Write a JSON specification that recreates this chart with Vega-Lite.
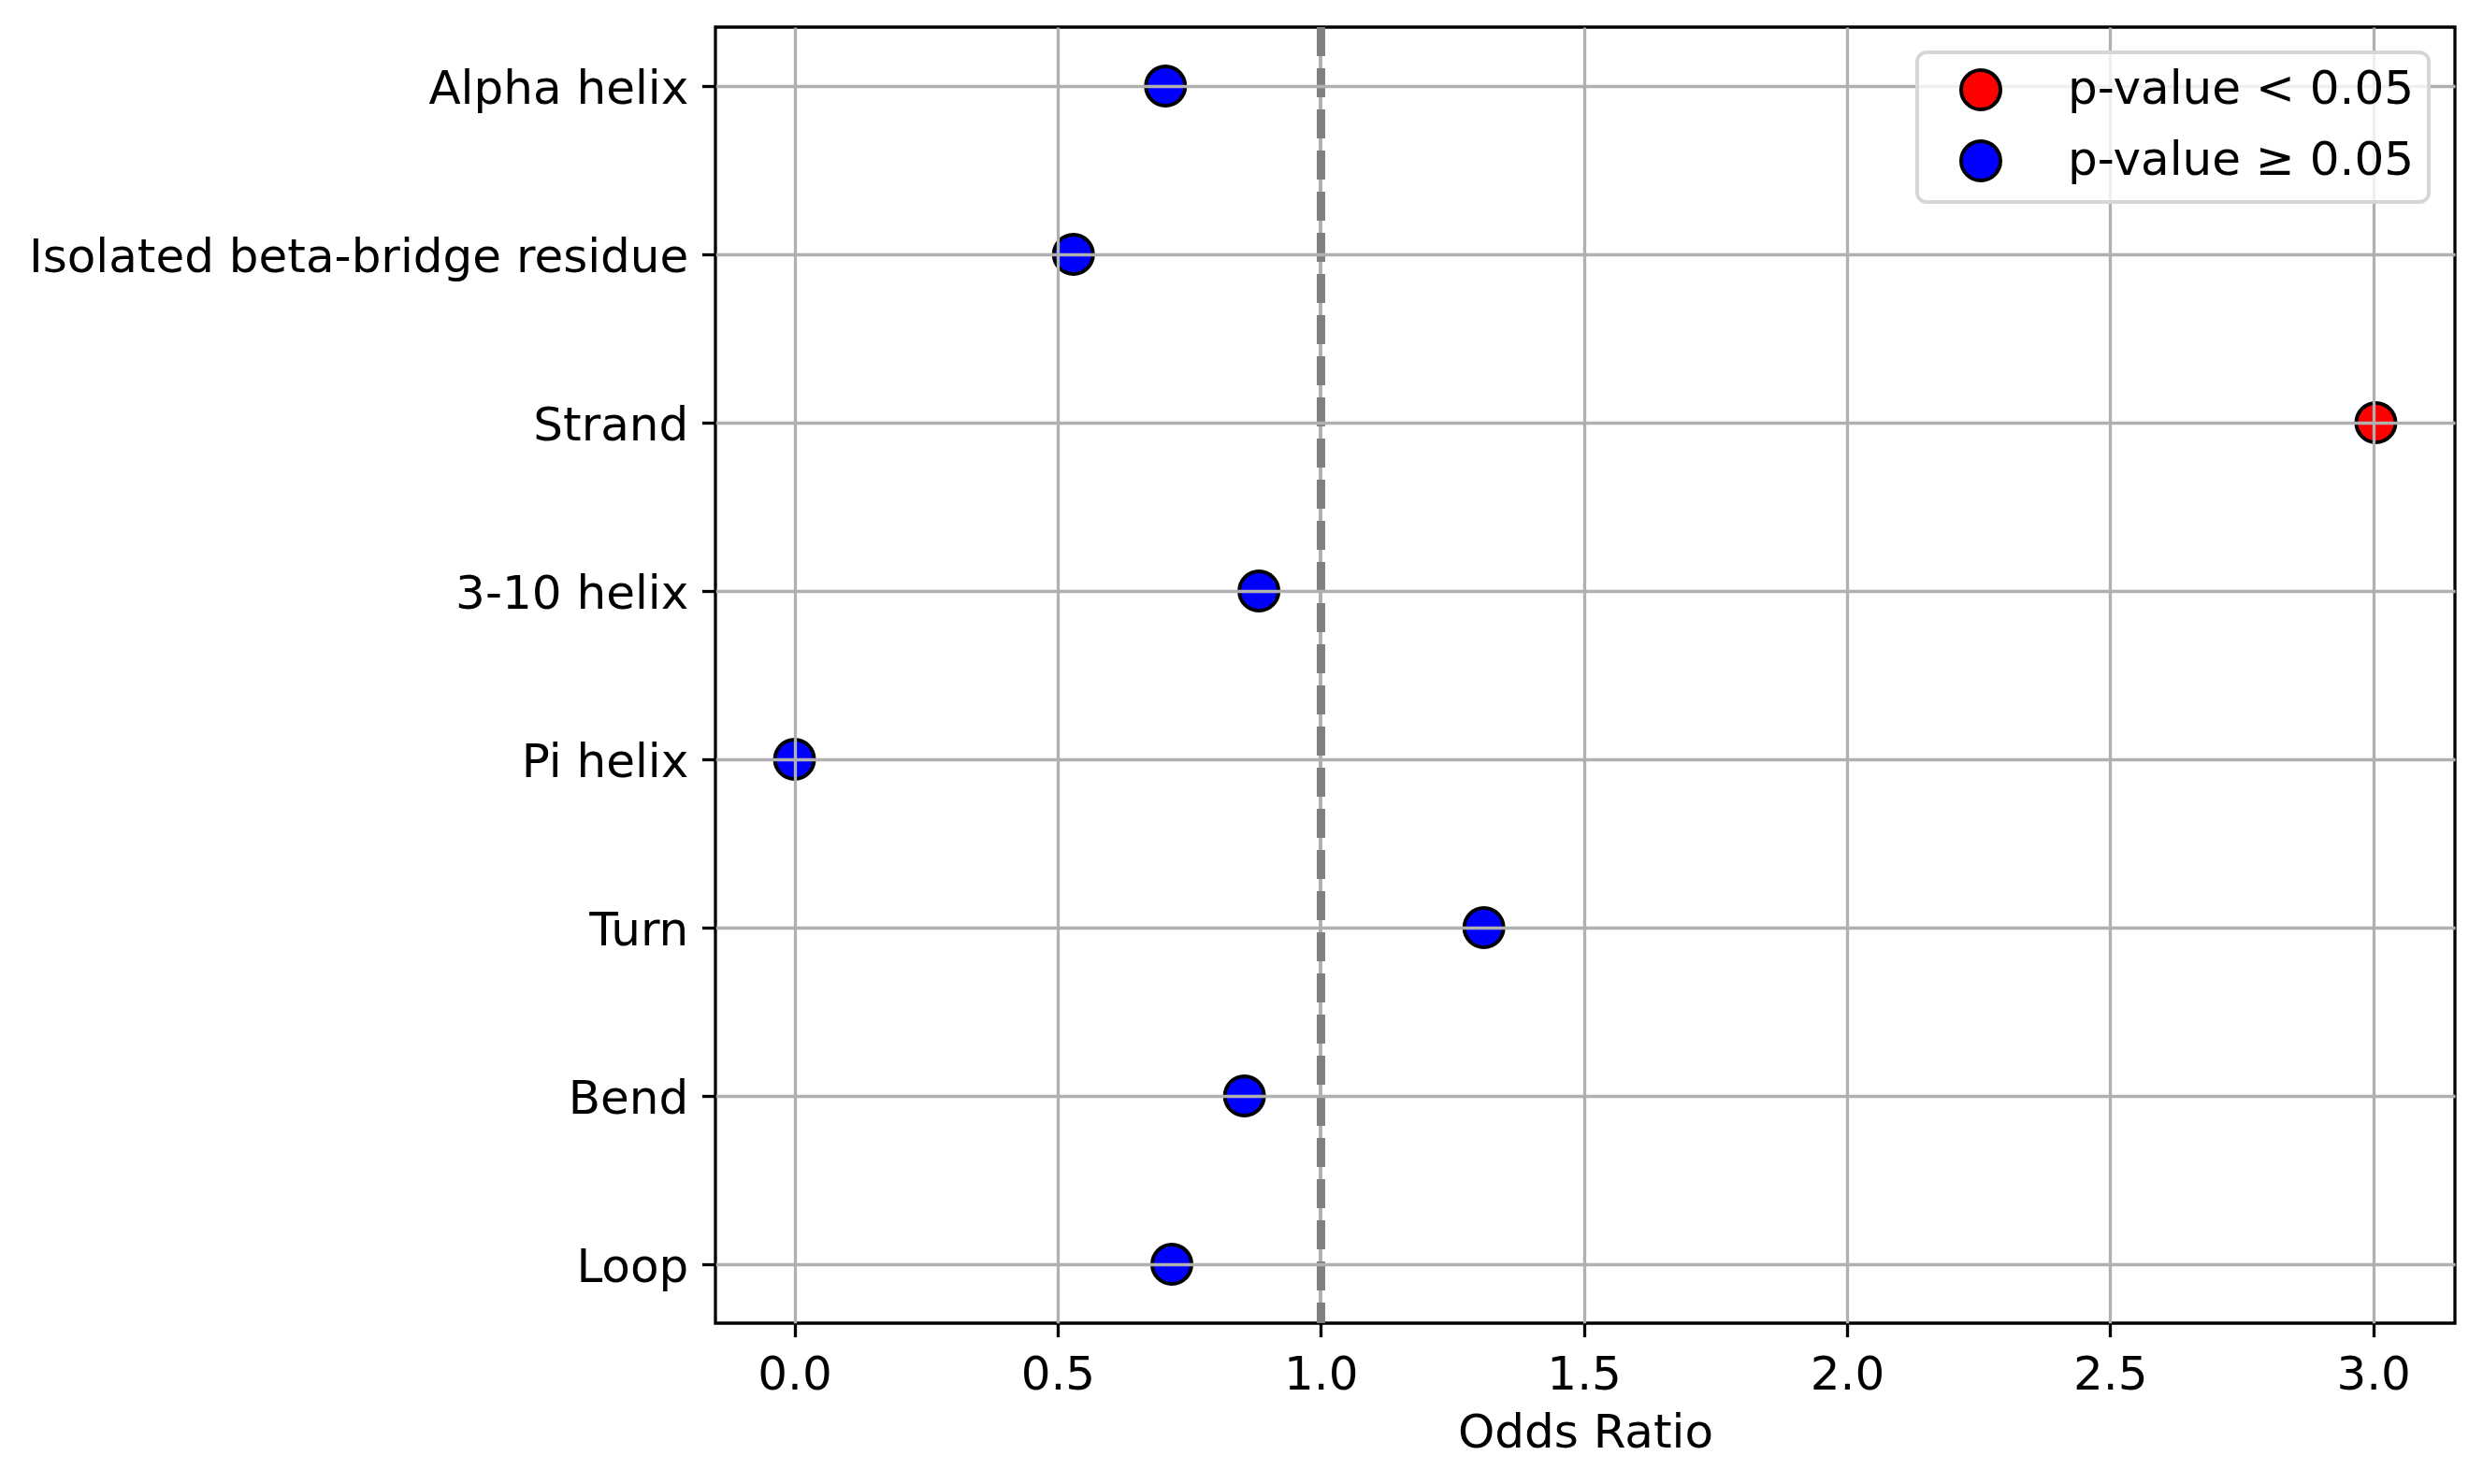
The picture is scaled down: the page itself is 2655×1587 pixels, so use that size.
{
  "$schema": "https://vega.github.io/schema/vega-lite/v6.json",
  "width": 1860,
  "height": 1386,
  "autosize": {"type": "none"},
  "padding": {"left": 765, "top": 29, "right": 30, "bottom": 172},
  "background": "white",
  "config": {
    "font": "DejaVu Sans",
    "view": {"stroke": "black", "strokeWidth": 3.3}
  },
  "data": {
    "values": [
      {"structure": "Alpha helix", "odds_ratio": 0.705, "significance": "p-value ≥ 0.05"},
      {"structure": "Isolated beta-bridge residue", "odds_ratio": 0.530, "significance": "p-value ≥ 0.05"},
      {"structure": "Strand", "odds_ratio": 3.005, "significance": "p-value < 0.05"},
      {"structure": "3-10 helix", "odds_ratio": 0.8825, "significance": "p-value ≥ 0.05"},
      {"structure": "Pi helix", "odds_ratio": 0.0, "significance": "p-value ≥ 0.05"},
      {"structure": "Turn", "odds_ratio": 1.310, "significance": "p-value ≥ 0.05"},
      {"structure": "Bend", "odds_ratio": 0.855, "significance": "p-value ≥ 0.05"},
      {"structure": "Loop", "odds_ratio": 0.717, "significance": "p-value ≥ 0.05"}
    ]
  },
  "layer": [
    {
      "mark": {"type": "rule", "color": "#b0b0b0", "strokeWidth": 3.3},
      "encoding": {"x": {"datum": 1}}
    },
    {
      "mark": {"type": "rule", "color": "#808080", "strokeWidth": 8.3, "strokeDash": [31, 13]},
      "encoding": {"x": {"datum": 1}}
    },
    {
      "mark": {"type": "point", "filled": true, "shape": "circle", "size": 1764, "stroke": "black", "strokeWidth": 4, "opacity": 1},
      "encoding": {
        "y": {
          "field": "structure",
          "type": "nominal",
          "sort": null,
          "scale": {"type": "point", "padding": 0.35},
          "axis": {
            "title": null,
            "zindex": 1,
            "domain": false,
            "grid": true,
            "gridColor": "#b0b0b0",
            "gridWidth": 3.3,
            "tickColor": "black",
            "tickWidth": 3.3,
            "tickSize": 14.6,
            "labelPadding": 14.6,
            "labelOffset": 3,
            "labelFontSize": 50,
            "labelColor": "black",
            "labelLimit": 1000
          }
        },
        "x": {
          "field": "odds_ratio",
          "type": "quantitative",
          "scale": {"domain": [-0.15025, 3.15525], "nice": false, "zero": false},
          "axis": {
            "title": "Odds Ratio",
            "zindex": 1,
            "values": [0, 0.5, 1, 1.5, 2, 2.5, 3],
            "format": ".1f",
            "domain": false,
            "grid": true,
            "gridColor": "#b0b0b0",
            "gridOpacity": {"condition": {"test": "datum.value == 1", "value": 0}, "value": 1},
            "gridWidth": 3.3,
            "tickColor": "black",
            "tickWidth": 3.3,
            "tickSize": 14.6,
            "labelPadding": 15.5,
            "labelFontSize": 50,
            "labelColor": "black",
            "labelFlush": false,
            "titleFontSize": 50,
            "titleFontWeight": "normal",
            "titleColor": "black",
            "titlePadding": 12
          }
        },
        "color": {
          "field": "significance",
          "type": "nominal",
          "scale": {"domain": ["p-value < 0.05", "p-value ≥ 0.05"], "range": ["#ff0000", "#0000ff"]},
          "legend": {
            "title": null,
            "orient": "none",
            "legendX": 1285,
            "legendY": 27,
            "zindex": 2,
            "padding": 15,
            "fillColor": "rgba(255,255,255,0.8)",
            "strokeColor": "#d6d6d6",
            "cornerRadius": 10,
            "symbolType": "circle",
            "symbolSize": 1764,
            "symbolStrokeColor": "black",
            "symbolStrokeWidth": 4,
            "symbolOpacity": 1,
            "symbolOffset": 28,
            "labelOffset": 68,
            "labelFontSize": 50,
            "labelColor": "black",
            "labelLimit": 1000,
            "rowPadding": 18,
            "encode": {"legend": {"update": {"strokeWidth": {"value": 4}}}}
          }
        }
      }
    }
  ]
}
